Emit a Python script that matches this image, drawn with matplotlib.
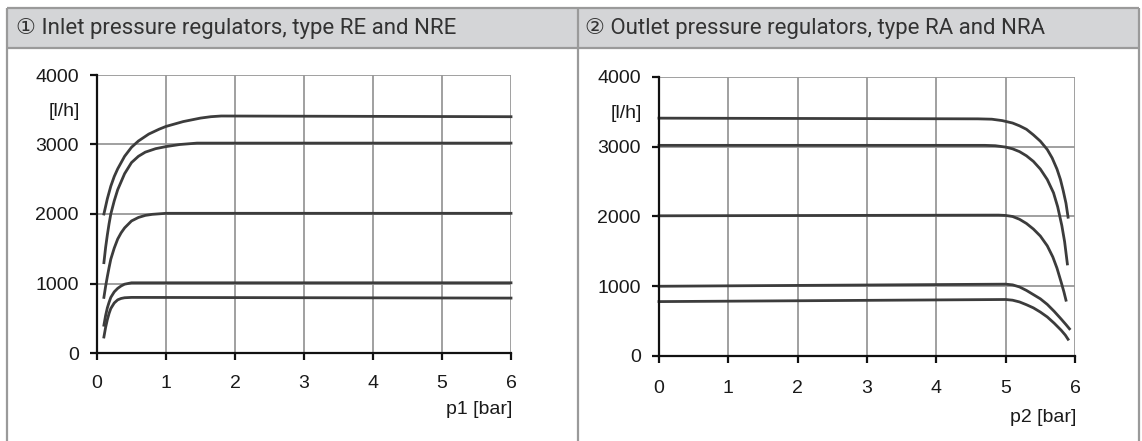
#! /usr/bin/env python
# Flow curves of inlet / outlet pressure regulators (two panels)

import matplotlib
matplotlib.use("Agg")
import matplotlib.pyplot as plt
from matplotlib.patches import Rectangle

# Donnees
#------------------------------------------------------------------
titles = ["\u2460 Inlet pressure regulators, type RE and NRE",
          "\u2461 Outlet pressure regulators, type RA and NRA"]
xlabels = ["p1 [bar]", "p2 [bar]"]
ylabel = "[l/h]"
xticks = [0, 1, 2, 3, 4, 5, 6]
yticks = [0, 1000, 2000, 3000, 4000]

# panneau 1 : RE / NRE, debit en fonction de p1
re_3400_x = [0.1, 0.15, 0.2, 0.25, 0.3, 0.4, 0.5, 0.6, 0.75, 0.9, 1.0, 1.25,
             1.5, 1.65, 1.8, 6.0]
re_3400_y = [2000, 2220, 2400, 2540, 2650, 2830, 2960, 3050, 3150, 3220, 3260,
             3330, 3380, 3400, 3410, 3400]
re_3000_x = [0.1, 0.125, 0.15, 0.175, 0.2, 0.25, 0.3, 0.4, 0.5, 0.6, 0.7, 0.85,
             1.0, 1.2, 1.45, 6.0]
re_3000_y = [1300, 1520, 1700, 1860, 2000, 2190, 2350, 2580, 2740, 2830, 2890,
             2940, 2970, 3000, 3020, 3020]
re_2000_x = [0.1, 0.125, 0.15, 0.175, 0.2, 0.25, 0.3, 0.35, 0.4, 0.5, 0.6, 0.7,
             0.8, 1.0, 6.0]
re_2000_y = [800, 960, 1100, 1230, 1350, 1510, 1640, 1730, 1800, 1900, 1950,
             1980, 1995, 2010, 2010]
re_1000_x = [0.1, 0.125, 0.15, 0.175, 0.2, 0.25, 0.3, 0.35, 0.4, 0.5, 6.0]
re_1000_y = [400, 540, 650, 730, 800, 880, 930, 965, 990, 1010, 1010]
re_800_x = [0.1, 0.125, 0.15, 0.175, 0.2, 0.25, 0.3, 0.35, 0.4, 0.5, 6.0]
re_800_y = [230, 370, 480, 570, 640, 720, 765, 785, 795, 800, 790]

# panneau 2 : RA / NRA, debit en fonction de p2
ra_3400_x = [0.0, 4.6, 4.8, 4.95, 5.1, 5.2, 5.3, 5.4, 5.5, 5.6, 5.67, 5.74,
             5.79, 5.83, 5.87, 5.9]
ra_3400_y = [3410, 3400, 3395, 3375, 3340, 3300, 3250, 3170, 3080, 2960, 2840,
             2680, 2530, 2370, 2190, 1990]
ra_3000_x = [0.0, 4.7, 4.85, 5.0, 5.1, 5.2, 5.3, 5.4, 5.5, 5.6, 5.69, 5.75,
             5.81, 5.85, 5.89]
ra_3000_y = [3020, 3020, 3015, 2995, 2970, 2930, 2870, 2790, 2680, 2530, 2340,
             2140, 1870, 1640, 1320]
ra_2000_x = [0.0, 4.9, 5.0, 5.1, 5.2, 5.3, 5.4, 5.5, 5.6, 5.68, 5.74, 5.8,
             5.84, 5.87]
ra_2000_y = [2010, 2020, 2015, 2000, 1960, 1900, 1820, 1720, 1580, 1420, 1260,
             1060, 920, 800]
ra_1000_x = [0.0, 5.0, 5.1, 5.2, 5.3, 5.4, 5.5, 5.6, 5.7, 5.8, 5.87, 5.92]
ra_1000_y = [1000, 1030, 1020, 990, 940, 880, 820, 740, 640, 530, 450, 390]
ra_800_x = [0.0, 5.0, 5.1, 5.2, 5.3, 5.4, 5.5, 5.6, 5.7, 5.8, 5.86, 5.9]
ra_800_y = [780, 810, 800, 775, 735, 690, 630, 560, 470, 370, 300, 240]

panels = [
    [(re_3400_x, re_3400_y), (re_3000_x, re_3000_y), (re_2000_x, re_2000_y),
     (re_1000_x, re_1000_y), (re_800_x, re_800_y)],
    [(ra_3400_x, ra_3400_y), (ra_3000_x, ra_3000_y), (ra_2000_x, ra_2000_y),
     (ra_1000_x, ra_1000_y), (ra_800_x, ra_800_y)],
]
#------------------------------------------------------------------

W, H = 1142, 441
fig = plt.figure(figsize=(W / 100., H / 100.), dpi=100)
fig.patch.set_facecolor("white")

# fond : tableau a deux colonnes avec en-tete gris
bg = fig.add_axes([0, 0, 1, 1], zorder=0)
bg.set_xlim(0, W)
bg.set_ylim(H, 0)
bg.axis("off")
border = "#9a9a9a"
bg.add_patch(Rectangle((7, 8), 1132, 40, facecolor="#d4d5d7", edgecolor="none"))
for xv in [7, 578, 1139]:
    bg.plot([xv, xv], [8, H], color=border, lw=1.6, solid_capstyle="butt")
for yv in [8, 48]:
    bg.plot([7, 1139], [yv, yv], color=border, lw=1.6, solid_capstyle="butt")
hfont = ["Roboto", "DejaVu Sans"]
bg.text(16, 28.5, titles[0], ha="left", va="center", fontsize=16,
        color="#333333", family=hfont)
bg.text(585, 28.5, titles[1], ha="left", va="center", fontsize=16,
        color="#333333", family=hfont)

# positions des axes (pixels : gauche, haut, droite, bas)
boxes = [(97, 75, 511, 353), (659, 77, 1075, 356)]
xlab_pos = [(512, 410), (1076, 417)]
ylab_pos = [(80, 112), (642, 113)]
xpads = [11, 12]

tfont = "Liberation Sans"
for k in range(2):
    l, t, r, b = boxes[k]
    ax = fig.add_axes([l / W, (H - b) / H, (r - l) / W, (b - t) / H], zorder=2)
    ax.set_facecolor("none")
    ax.set_xlim(0, 6)
    ax.set_ylim(0, 4000)
    ax.set_xticks(xticks)
    ax.set_yticks(yticks)
    ax.grid(True, color="#999999", lw=1.3)
    ax.set_axisbelow(True)
    for s in ["top", "right"]:
        ax.spines[s].set_visible(False)
    for s in ["left", "bottom"]:
        ax.spines[s].set_linewidth(1.6)
        ax.spines[s].set_color("#111111")
    ax.tick_params(axis="both", direction="out", length=5, width=1.6,
                   color="#111111", labelsize=14, labelcolor="#1a1a1a")
    ax.tick_params(axis="y", pad=8)
    ax.tick_params(axis="x", pad=xpads[k])
    for lab in ax.get_xticklabels() + ax.get_yticklabels():
        lab.set_family(tfont)
    for cx, cy in panels[k]:
        ax.plot(cx, cy, color="#3c3c3c", lw=2.0, clip_on=False,
                solid_joinstyle="round")
    bg.text(xlab_pos[k][0], xlab_pos[k][1], xlabels[k], ha="right",
            va="center", fontsize=14, color="#1a1a1a", family=tfont)
    bg.text(ylab_pos[k][0], ylab_pos[k][1], ylabel, ha="right",
            va="center", fontsize=14, color="#1a1a1a", family=tfont)

fig.savefig("out.png", dpi=100, facecolor="white")
